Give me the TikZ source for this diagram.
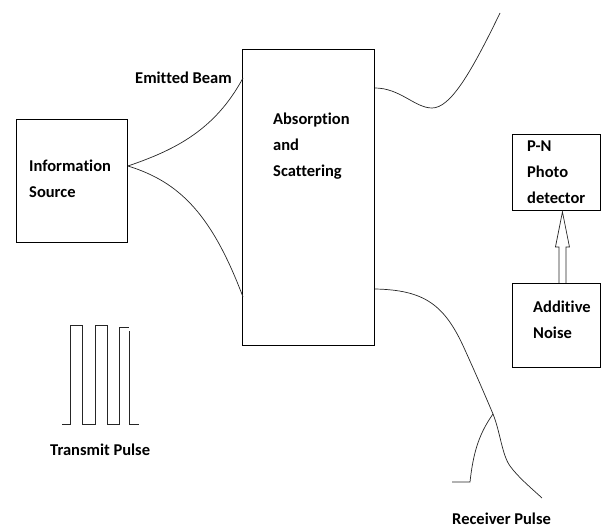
\documentclass[tikz,border=0pt]{standalone}
\usepackage{fontspec}
\setmainfont[Ligatures=NoCommon]{Carlito}
\usetikzlibrary{calc}

\tikzset{
  blk/.style={draw, line width=0.9pt, inner sep=0pt, anchor=north west},
  lbl/.style={font=\bfseries\fontsize{16.5}{26}\selectfont, align=left, anchor=west, inner sep=0pt},
  wave/.style={line width=0.7pt, black!85},
}

\begin{document}
\begin{tikzpicture}[x=1pt,y=-1pt]
  \useasboundingbox (0,0) rectangle (613,529);
  % boxes
  \node[blk, minimum width=111pt, minimum height=123pt] (src) at (16,119) {};
  \node[blk, minimum width=132pt, minimum height=296pt] (abs) at (242,49) {};
  \node[blk, minimum width=88pt, minimum height=76pt] (pn) at (512,134) {};
  \node[blk, minimum width=88pt, minimum height=84pt] (noise) at (512,283) {};
  % texts
  \node[lbl] (srctxt) at (29,178.5) {Information\\ Source};
  \node[lbl] (abstxt) at (273,146) {Absorption\\and\\Scattering};
  \node[lbl] (pntxt) at (527,172) {P-N\\Photo\\detector};
  \node[lbl] (noisetxt) at (533,319.5) {Additive\\Noise};
  \node[lbl] (beam) at (135,78) {Emitted Beam};
  \node[lbl] (tx) at (50,450) {Transmit Pulse};
  \node[lbl] (rx) at (452,519) {Receiver Pulse};
  % emitted beam
  \coordinate (fork) at ($(src.north east)+(0,47)$);
  \coordinate (hit1) at ($(abs.north west)+(1,29)$);
  \coordinate (hit2) at ($(abs.north west)+(1,248)$);
  \draw[wave] (fork) .. controls (175,150) and (215,130) .. (hit1);
  \draw[wave] (fork) .. controls (180,182) and (212,215) .. (hit2);
  % scattered beams
  \coordinate (out1) at ($(abs.north east)+(0,39)$);
  \coordinate (out2) at ($(abs.north east)+(0,240)$);
  \coordinate (cross) at (493,414);
  \draw[wave] (out1) .. controls (400,88) and (415,108) .. (432,108)
    .. controls (450,108) and (470,75) .. (500,13);
  \draw[wave] (out2) .. controls (425,290) and (445,305) .. (465,350)
    .. controls (475,372) and (485,395) .. (cross)
    .. controls (500,431) and (502,455) .. (510,466)
    .. controls (518,477) and (530,487) .. (542,498);
  % receiver pulse
  \draw[wave] (452,482) -- (470,482) .. controls (473,455) and (478,435) .. (cross);
  % hollow arrow
  \draw[wave] ($(noise.north)+(2.5,0)$) -- ++(0,-36) -- ++(-3.5,0)
    -- ($(pn.south)+(6,1)$) -- ($(noise.north)+(13,-36)$) -- ++(-3.5,0) -- ++(0,36);
  % transmit pulse
  \draw[wave] (62,424) -- (70,424) -- (70,325) -- (82,325) -- (82,424) -- (95,424)
    -- (95,325) -- (107,325) -- (107,424) -- (119,424) -- (119,327) -- (129,327);
  \draw[wave] (129,331) -- (129,424) -- (139,424);
\end{tikzpicture}
\end{document}
